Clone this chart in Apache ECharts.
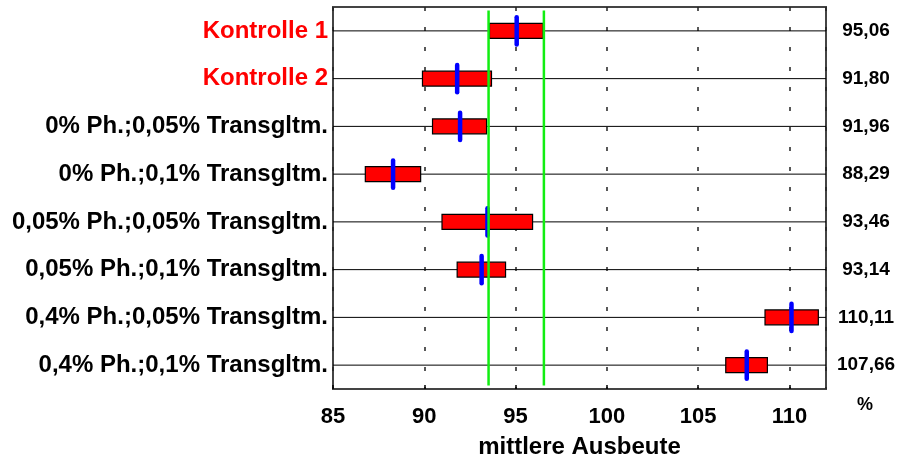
<!DOCTYPE html>
<html>
<head>
<meta charset="utf-8">
<script src="https://cdn.jsdelivr.net/npm/echarts@6/dist/echarts.min.js"></script>
<style>
  html, body { margin: 0; padding: 0; background: #fff; }
  #chart { width: 903px; height: 462px; }
</style>
</head>
<body>
<div id="chart"></div>
<script>
const categories = [
  'Kontrolle 1',
  'Kontrolle 2',
  '0% Ph.;0,05% Transgltm.',
  '0% Ph.;0,1% Transgltm.',
  '0,05% Ph.;0,05% Transgltm.',
  '0,05% Ph.;0,1% Transgltm.',
  '0,4% Ph.;0,05% Transgltm.',
  '0,4% Ph.;0,1% Transgltm.'
]
const means = [95.06, 91.80, 91.96, 88.29, 93.46, 93.14, 110.11, 107.66]
const lows = [93.57, 89.90, 90.45, 86.77, 90.97, 91.80, 108.66, 106.51]
const highs = [96.51, 93.68, 93.41, 89.80, 95.93, 94.45, 111.58, 108.79]
const limits = [93.52, 96.55]
const redRows = ['Kontrolle 1', 'Kontrolle 2']

const font = '"Liberation Sans", Arial, sans-serif'
let chart = echarts.init(document.getElementById('chart'))

let boxData = categories.map((c, i) => [lows[i], highs[i], means[i], i])
let limitData = limits.map(v => [v])
let valueLabels = means.map(v => v.toFixed(2).replace('.', ','))

let options = {
  animation: false,
  backgroundColor: '#fff',
  grid: {
    left: 333,
    right: 77,
    top: 7,
    bottom: 73,
    outerBoundsMode: 'none',
    containLabel: false,
    show: true,
    borderColor: '#444',
    borderWidth: 2
  },
  xAxis: {
    type: 'value',
    min: 85,
    max: 112,
    interval: 5,
    name: 'mittlere Ausbeute',
    nameLocation: 'middle',
    nameGap: 46,
    nameTextStyle: { fontFamily: font, fontWeight: 'bold', fontSize: 24, color: '#000' },
    axisLine: { show: false },
    axisTick: { show: true, inside: true, length: 4, lineStyle: { color: '#000', width: 1.5 } },
    axisLabel: {
      showMaxLabel: false,
      margin: 17,
      fontFamily: font,
      fontWeight: 'bold',
      fontSize: 22,
      color: '#000'
    },
    splitLine: { show: true, lineStyle: { color: '#222', width: 1.5, type: [4, 16] } }
  },
  yAxis: [
    {
      type: 'category',
      inverse: true,
      data: categories,
      axisLine: { show: false },
      axisTick: { show: false },
      splitLine: { show: false },
      axisLabel: {
        margin: 5,
        fontFamily: font,
        fontWeight: 'bold',
        fontSize: 24,
        color: (v) => redRows.includes(v) ? '#ff0000' : '#000'
      }
    },
    {
      type: 'category',
      inverse: true,
      position: 'right',
      data: valueLabels,
      axisLine: { show: false },
      axisTick: { show: false },
      splitLine: { show: false },
      axisLabel: {
        align: 'center',
        margin: 40,
        fontFamily: font,
        fontWeight: 'bold',
        fontSize: 19,
        color: '#000'
      }
    }
  ],
  graphic: [
    {
      type: 'text',
      left: 857,
      top: 396,
      style: { text: '%', font: 'bold 18px ' + font, fill: '#000' }
    }
  ],
  series: [
    {
      type: 'custom',
      name: 'range',
      encode: { x: [0, 1, 2], y: 3 },
      data: boxData,
      z: 3,
      renderItem: (params, api) => {
        let cs = params.coordSys
        let idx = api.value(3)
        let pLow = api.coord([api.value(0), idx])
        let pHigh = api.coord([api.value(1), idx])
        let pMean = api.coord([api.value(2), idx])
        let band = api.size([0, 1])[1]
        let h = band * 0.31
        let mh = band * 0.285
        return {
          type: 'group',
          children: [
            {
              type: 'line',
              shape: { x1: cs.x, y1: pLow[1], x2: cs.x + cs.width, y2: pLow[1] },
              style: { stroke: '#000', lineWidth: 1 }
            },
            {
              type: 'rect',
              shape: { x: pLow[0], y: pLow[1] - h / 2, width: pHigh[0] - pLow[0], height: h },
              style: { fill: '#ff0000', stroke: '#000', lineWidth: 1.2 }
            },
            {
              type: 'line',
              shape: { x1: pMean[0], y1: pMean[1] - mh, x2: pMean[0], y2: pMean[1] + mh },
              style: { stroke: '#0000ff', lineWidth: 4.5, lineCap: 'round' }
            }
          ]
        }
      }
    },
    {
      type: 'custom',
      name: 'limits',
      encode: { x: 0 },
      data: limitData,
      z: 4,
      renderItem: (params, api) => {
        let cs = params.coordSys
        let x = api.coord([api.value(0), 0])[0]
        return {
          type: 'line',
          shape: { x1: x, y1: cs.y + 3.5, x2: x, y2: cs.y + cs.height - 3.5 },
          style: { stroke: '#11ee11', lineWidth: 2.5 }
        }
      }
    }
  ]
}
chart.setOption(options)
</script>
</body>
</html>
